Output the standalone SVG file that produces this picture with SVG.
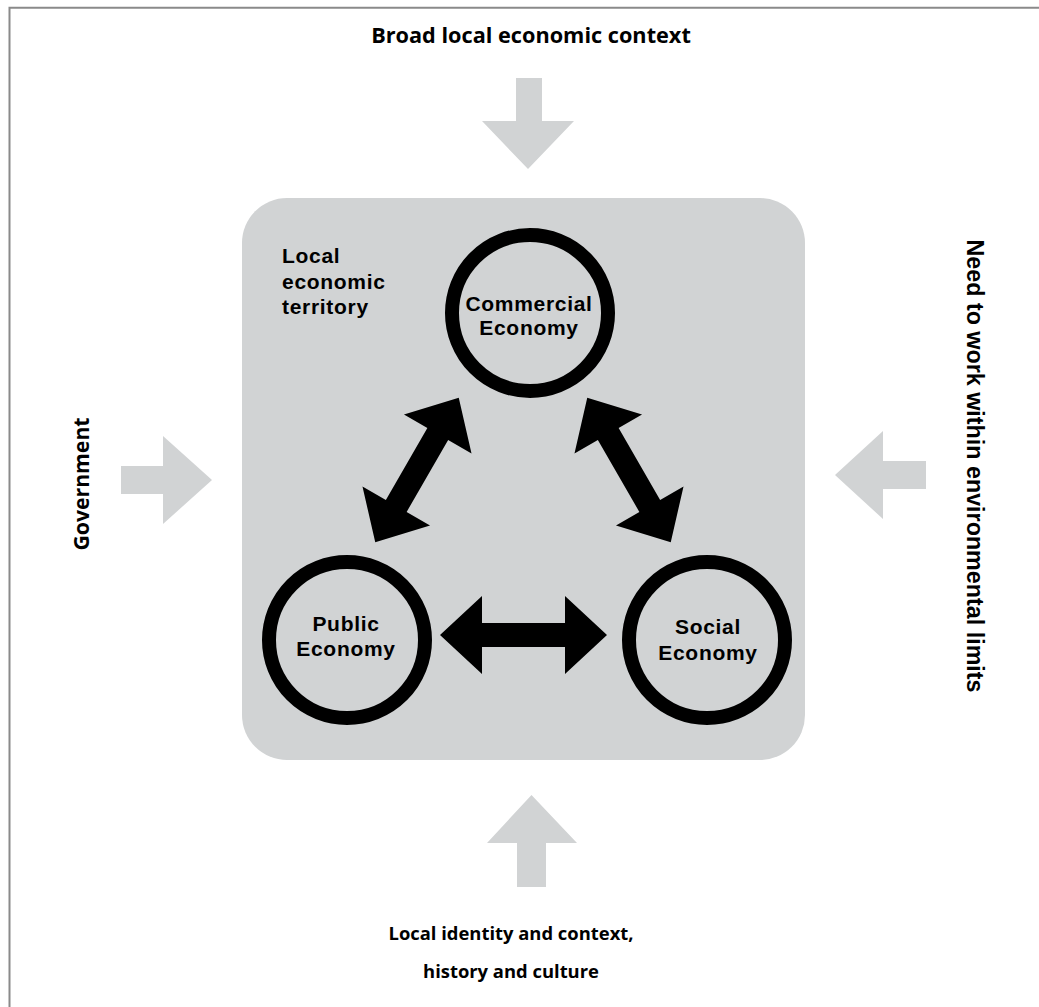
<svg xmlns="http://www.w3.org/2000/svg" width="1039" height="1007" viewBox="0 0 1039 1007">
<defs>
<style>
.lbl{font-family:"Open Sans","Liberation Sans",sans-serif;font-weight:bold;fill:#000;}
.node{font-family:"Liberation Sans",Arial,sans-serif;font-weight:bold;fill:#000;font-size:21px;letter-spacing:0.7px;}
.side{font-family:"Liberation Sans",Arial,sans-serif;font-weight:bold;fill:#000;}
.ring{fill:none;stroke:#000;stroke-width:14;}
.gray{fill:#d1d3d4;}
</style>
<path id="dbl" d="M -83.5 0 L -41.5 -39 L -41.5 -12 L 41.5 -12 L 41.5 -39 L 83.5 0 L 41.5 39 L 41.5 12 L -41.5 12 L -41.5 39 Z"/>
</defs>
<rect width="1039" height="1007" fill="#fff"/>
<path d="M 9.5 1007 V 7.7 H 1039" fill="none" stroke="#8a8a8a" stroke-width="2"/>

<g id="territory">
<rect x="242" y="198" width="563" height="562" rx="45" class="gray"/>
<text class="node" x="282"><tspan x="282" y="263">Local</tspan><tspan x="282" y="289">economic</tspan><tspan x="282" y="314">territory</tspan></text>
</g>

<g id="outer-labels">
<text class="lbl" font-size="21.7" x="531" y="43" text-anchor="middle">Broad local economic context</text>
<text class="lbl" font-size="21.2" transform="translate(89,484) rotate(-90)" text-anchor="middle">Government</text>
<text class="side" font-size="23.3" transform="translate(967,466) rotate(90)" text-anchor="middle">Need to work within environmental limits</text>
<text class="lbl" font-size="18.4" x="511" y="940" text-anchor="middle">Local identity and context,</text>
<text class="lbl" font-size="18.4" x="511" y="978" text-anchor="middle">history and culture</text>
</g>

<g id="commercial">
<circle cx="530" cy="313" r="78" class="ring"/>
<text class="node" x="529" y="311" text-anchor="middle">Commercial</text>
<text class="node" x="529" y="335" text-anchor="middle">Economy</text>
</g>
<g id="public">
<circle cx="347" cy="640" r="78" class="ring"/>
<text class="node" x="346" y="631" text-anchor="middle">Public</text>
<text class="node" x="346" y="656" text-anchor="middle">Economy</text>
</g>
<g id="social">
<circle cx="707" cy="640" r="78" class="ring"/>
<text class="node" x="708" y="634" text-anchor="middle">Social</text>
<text class="node" x="708" y="660" text-anchor="middle">Economy</text>
</g>

<g id="connectors">
<use href="#dbl" transform="translate(417,470) rotate(-60)"/>
<use href="#dbl" transform="translate(629,470) rotate(60)"/>
<use href="#dbl" transform="translate(523.5,635)"/>
<polygon class="gray" points="516,78 542,78 542,121 574,121 528,169 482,121 516,121"/>
<polygon class="gray" points="121,466 163,466 163,436 212,480 163,524 163,494 121,494"/>
<polygon class="gray" points="926,461 883,461 883,431 835,475 883,519 883,489 926,489"/>
<polygon class="gray" points="517,887 546,887 546,843 577,843 531.5,795 487,843 517,843"/>
</g>
</svg>
